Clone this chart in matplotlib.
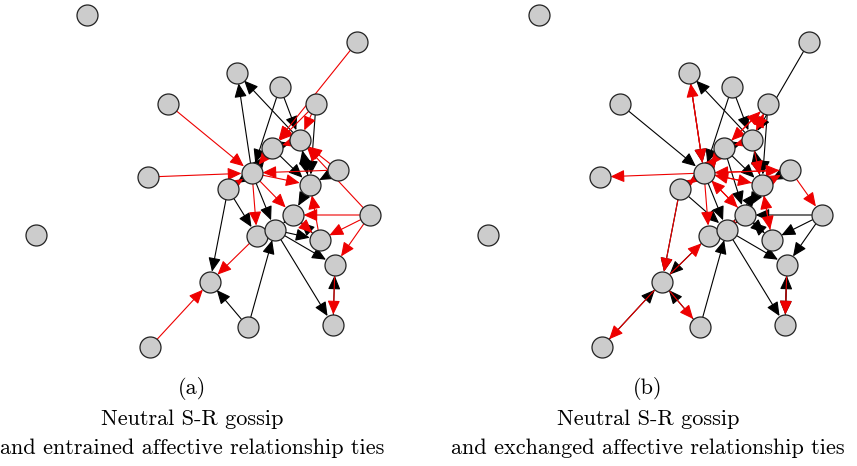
import matplotlib
matplotlib.use("Agg")
import matplotlib.pyplot as plt
from matplotlib.patches import FancyArrowPatch, ArrowStyle

# Node layout shared by both panels (pixel coordinates within a panel)
node_x = [87, 357, 237, 280, 168, 316, 300, 272, 338, 148, 252, 228,
          310, 370, 293, 36, 257, 275, 320, 335, 210, 248, 333, 150]
node_y = [15, 42, 73, 87, 104, 104, 140, 148, 170, 177, 173, 189,
          185, 215, 215, 235, 236, 230, 240, 265, 282, 327, 325, 347]

# Panel (a): entrained affective ties (black = gossip, red = affective)
edges_a_black = [(10, 2), (6, 2), (3, 6), (3, 10), (5, 12), (8, 12), (11, 20),
                 (21, 20), (21, 17), (17, 22), (17, 19), (22, 19), (17, 18),
                 (10, 17), (12, 14), (7, 6), (10, 7), (6, 12), (12, 6),
                 (7, 12), (14, 17), (18, 14), (10, 11), (11, 16), (16, 17)]
edges_a_red = [(1, 7), (4, 10), (9, 10), (23, 20), (5, 6), (5, 7), (8, 6),
               (8, 10), (13, 14), (13, 18), (13, 19), (13, 6), (10, 16),
               (10, 14), (16, 20), (19, 22), (18, 12), (7, 10), (6, 7),
               (11, 10), (10, 12), (14, 18)]

# Panel (b): exchanged affective ties
edges_b_black = [(1, 6), (4, 10), (6, 2), (3, 6), (3, 10), (5, 12), (13, 18),
                 (13, 19), (13, 14), (17, 22), (17, 19), (21, 17), (22, 19),
                 (19, 22), (10, 17), (12, 14), (7, 12), (10, 11), (11, 17),
                 (14, 17), (6, 12), (8, 12), (12, 6), (7, 6), (10, 7),
                 (14, 18), (18, 14), (16, 17), (11, 20), (23, 20), (21, 20),
                 (16, 20), (2, 10), (7, 14), (17, 12)]
edges_b_red = [(10, 9), (2, 10), (10, 2), (20, 23), (20, 21),
               (20, 16), (11, 20), (8, 13), (5, 6),
               (6, 5), (7, 10), (10, 7), (10, 12), (12, 10), (10, 14),
               (10, 16), (16, 14), (18, 12), (19, 22), (8, 10), (10, 8),
               (6, 7), (12, 18), (5, 7), (7, 5), (11, 10), (10, 11),
               (14, 10), (12, 8), (6, 12), (17, 14)]

panel_offsets = [0, 452]
caption_x = [192, 648]
caption_tag = ["(a)", "(b)"]
caption_line1 = ["Neutral S-R gossip", "Neutral S-R gossip"]
caption_line2 = ["and entrained affective relationship ties",
                 "and exchanged affective relationship ties"]

W, H = 857, 466
DPI = 100
fig = plt.figure(figsize=(W / DPI, H / DPI), dpi=DPI)
ax = fig.add_axes([0, 0, 1, 1])
ax.set_xlim(0, W)
ax.set_ylim(H, 0)
ax.axis("off")

px = 72.0 / DPI          # points per pixel
node_r = 10.5            # node radius in pixels
head = ArrowStyle("-|>", head_length=0.85, head_width=0.38)


def draw_edges(xoff, edges, color):
    for s, t in edges:
        a = (node_x[s] + xoff, node_y[s])
        b = (node_x[t] + xoff, node_y[t])
        arr = FancyArrowPatch(a, b, arrowstyle=head, mutation_scale=10,
                              shrinkA=node_r * px, shrinkB=node_r * px,
                              color=color, lw=0.8, zorder=2)
        ax.add_patch(arr)


panels = [(edges_a_black, edges_a_red), (edges_b_black, edges_b_red)]
for k, (blk, red) in enumerate(panels):
    xoff = panel_offsets[k]
    draw_edges(xoff, blk, "black")
    draw_edges(xoff, red, "#ee0000")
    ax.scatter([x + xoff for x in node_x], node_y, s=(2 * node_r * px) ** 2,
               facecolor="#cccccc", edgecolor="#222222", linewidths=0.9,
               zorder=3)
    for txt, y in zip([caption_tag[k], caption_line1[k], caption_line2[k]],
                      [389, 419, 448]):
        ax.text(caption_x[k], y, txt, ha="center", va="center",
                fontfamily="cmr10", fontsize=16, color="black")

fig.savefig("out.png", dpi=DPI)
